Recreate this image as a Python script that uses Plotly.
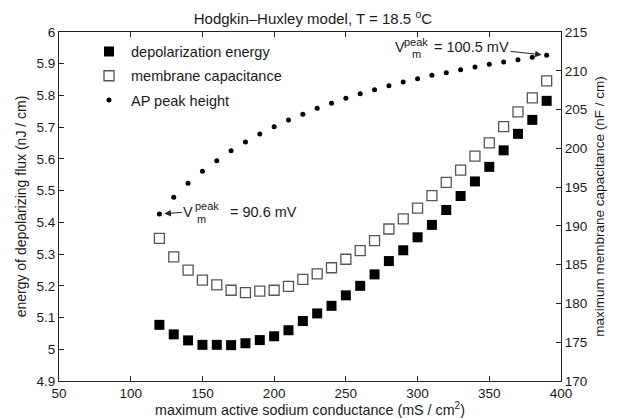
import plotly.graph_objects as go

# conductance values (mS/cm^2)
g_na = [120, 130, 140, 150, 160, 170, 180, 190, 200, 210, 220, 230, 240, 250,
        260, 270, 280, 290, 300, 310, 320, 330, 340, 350, 360, 370, 380, 390]

# depolarization energy (nJ/cm) - left axis
energy = [5.077, 5.047, 5.028, 5.014, 5.014, 5.013, 5.019, 5.029, 5.041, 5.060,
          5.089, 5.113, 5.137, 5.170, 5.200, 5.236, 5.278, 5.312, 5.353, 5.392,
          5.439, 5.483, 5.529, 5.575, 5.627, 5.679, 5.723, 5.783]

# membrane capacitance (nF/cm) - right axis
capacitance = [188.4, 186.0, 184.3, 183.0, 182.4, 181.7, 181.4, 181.6, 181.7, 182.2,
               183.1, 183.8, 184.6, 185.7, 186.8, 188.1, 189.6, 190.9, 192.3, 193.9,
               195.6, 197.2, 199.0, 200.7, 202.8, 204.7, 206.5, 208.7]

# AP peak height (mV) - hidden scale
ap_peak = [90.60, 91.64, 92.51, 93.26, 93.92, 94.55, 95.09, 95.59, 96.04, 96.46,
           96.82, 97.19, 97.50, 97.81, 98.10, 98.35, 98.60, 98.83, 99.04, 99.25,
           99.41, 99.60, 99.77, 99.94, 100.08, 100.22, 100.37, 100.50]

left_ticks = [4.9, 5.0, 5.1, 5.2, 5.3, 5.4, 5.5, 5.6, 5.7, 5.8, 5.9, 6.0]
left_ticktext = ["4.9", "5", "5.1", "5.2", "5.3", "5.4", "5.5", "5.6", "5.7", "5.8", "5.9", "6"]
right_ticks = [170, 175, 180, 185, 190, 195, 200, 205, 210, 215]
x_ticks = [50, 100, 150, 200, 250, 300, 350, 400]

FONT = "Liberation Sans, Arial, sans-serif"
TXT = "#1a1a1a"

fig = go.Figure()
fig.add_trace(go.Scatter(
    x=g_na, y=energy, mode="markers", name="depolarization energy",
    legendgroup="a",
    marker=dict(symbol="square", size=10, color="black", line=dict(width=0)),
    yaxis="y"))
fig.add_trace(go.Scatter(
    x=g_na, y=capacitance, mode="markers", name="membrane capacitance",
    legendgroup="b",
    marker=dict(symbol="square-open", size=10, color="#555555", line=dict(width=1.3)),
    yaxis="y2"))
fig.add_trace(go.Scatter(
    x=g_na, y=ap_peak, mode="markers", name="AP peak height",
    legendgroup="c",
    marker=dict(symbol="circle", size=5, color="black"),
    yaxis="y3"))

axis_common = dict(showline=True, linecolor="#222", linewidth=1, ticks="inside",
                   ticklen=5, tickcolor="#222", showgrid=False, zeroline=False,
                   automargin=False,
                   tickfont=dict(family=FONT, size=13.5, color=TXT))

# the page body has an 8px margin, so the figure is sized to fill the rest of the window
fig.update_layout(
    width=611, height=410,
    margin=dict(l=51, r=58, t=24, b=37),
    paper_bgcolor="white", plot_bgcolor="white",
    font=dict(family=FONT, color=TXT),
    title=dict(text="Hodgkin–Huxley model, T = 18.5 <sup>o</sup>C", x=0.499, xanchor="center",
               y=0.974, yanchor="middle", font=dict(family=FONT, size=15, color=TXT)),
    xaxis=dict(range=[50, 400], tickvals=x_ticks, mirror="ticks",
               title=dict(text="maximum active sodium conductance (mS / cm<sup>2</sup>)",
                          font=dict(family=FONT, size=14.3, color=TXT), standoff=3),
               **axis_common),
    yaxis=dict(range=[4.9, 6.0], tickvals=left_ticks, ticktext=left_ticktext,
               title=dict(text="energy of depolarizing flux (nJ / cm)",
                          font=dict(family=FONT, size=14, color=TXT), standoff=6),
               **axis_common),
    yaxis2=dict(range=[170, 215], tickvals=right_ticks, overlaying="y", side="right",
                title=dict(text="maximum membrane capacitance (nF / cm)",
                           font=dict(family=FONT, size=13.5, color=TXT), standoff=8),
                **axis_common),
    yaxis3=dict(range=[80.18, 101.95], overlaying="y", visible=False),
    legend=dict(x=0.0558, y=0.99, xanchor="left", yanchor="top",
                bgcolor="rgba(0,0,0,0)", borderwidth=0, tracegroupgap=2.5,
                itemwidth=34,
                font=dict(family=FONT, size=14.5, color=TXT)),
    showlegend=True,
)

SUB = 11
MAIN = 14.5

def small(xv, yv, text, dx, dy):
    return dict(x=xv, y=yv, xref="x", yref="y3", showarrow=False,
                xanchor="left", yanchor="middle", text=text, xshift=dx, yshift=dy,
                font=dict(family=FONT, size=SUB, color=TXT))

def main_txt(xv, yv, text, dx, dy):
    return dict(x=xv, y=yv, xref="x", yref="y3", showarrow=False,
                xanchor="left", yanchor="middle", text=text, xshift=dx, yshift=dy,
                font=dict(family=FONT, size=MAIN, color=TXT))

arrow_style = dict(showarrow=True, axref="pixel", ayref="pixel", arrowhead=2,
                   arrowsize=1.3, arrowwidth=1, arrowcolor="#222", standoff=5)

annotations = []
# lower label (first point): "V" carries the arrow pointing at the dot
x0, y0 = g_na[0], ap_peak[0]
annotations.append(dict(x=x0, y=y0, xref="x", yref="y3", text="V", ax=29, ay=-2,
                        font=dict(family=FONT, size=MAIN, color=TXT), **arrow_style))
annotations.append(small(x0, y0, "peak", 34, 8))
annotations.append(small(x0, y0, "m", 36, -5))
annotations.append(main_txt(x0, y0, "= %.1f mV" % y0, 69, 2))

# upper label (last point): value text carries the arrow
x1, y1 = g_na[-1], ap_peak[-1]
annotations.append(main_txt(x1, y1, "V", -154, 8))
annotations.append(small(x1, y1, "peak", -145, 13))
annotations.append(small(x1, y1, "m", -137, 1))
annotations.append(dict(x=x1, y=y1, xref="x", yref="y3", text="= %.1f mV" % y1,
                        ax=-75, ay=-8,
                        font=dict(family=FONT, size=MAIN, color=TXT), **arrow_style))
fig.update_layout(annotations=annotations)

fig.write_html("out.html")
